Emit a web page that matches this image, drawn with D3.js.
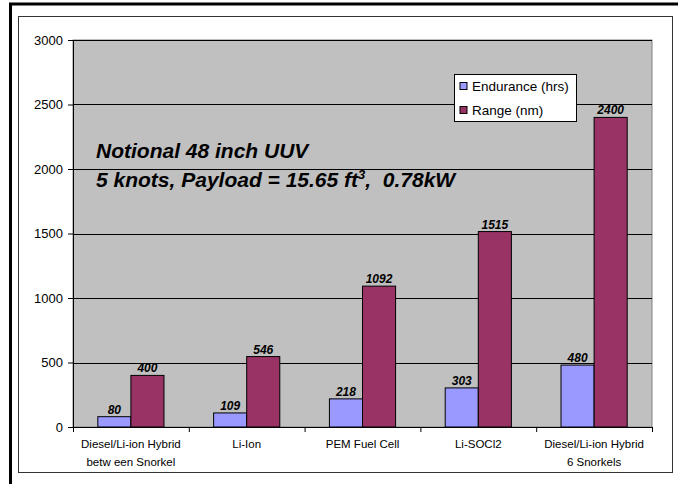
<!DOCTYPE html>
<html>
<head>
<meta charset="utf-8">
<script src="https://cdn.jsdelivr.net/npm/d3@7"></script>
<style>
  body { margin: 0; background: #fff; }
  svg { display: block; font-family: Arial, "Liberation Sans", sans-serif; }
</style>
</head>
<body>
<div id="chart"></div>
<script>
var categories = [["Diesel/Li-ion Hybrid", "betw een Snorkel"], ["Li-Ion"], ["PEM Fuel Cell"], ["Li-SOCl2"], ["Diesel/Li-ion Hybrid", "6 Snorkels"]],
    endurance = [80, 109, 218, 303, 480],
    range = [400, 546, 1092, 1515, 2400],
    seriesNames = ["Endurance (hrs)", "Range (nm)"],
    yTicks = [0, 500, 1000, 1500, 2000, 2500, 3000];

var W = 678, H = 484,
    margin = { top: 40, right: 26, bottom: 57, left: 73 },
    width = W - margin.left - margin.right,
    height = H - margin.top - margin.bottom;

var colors = ['#9999FF', '#993366'];

var svg = d3.select('#chart').append('svg')
  .attr('width', W)
  .attr('height', H);

// outer frame (runs off the right/bottom edge)
svg.append('rect')
  .attr('x', 10.5).attr('y', 4)
  .attr('width', 700).attr('height', 520)
  .attr('fill', 'none').attr('stroke', '#000').attr('stroke-width', 3);

// chart area border
svg.append('rect')
  .attr('x', 18.5).attr('y', 16.5)
  .attr('width', 654).attr('height', 456)
  .attr('fill', '#fff').attr('stroke', '#333').attr('stroke-width', 1);

var g = svg.append('g')
  .attr('transform', 'translate(' + margin.left + ',' + margin.top + ')');

var y = d3.scaleLinear().domain([0, 3000]).range([height, 0]);
var x = d3.scaleBand().domain(d3.range(categories.length)).range([0, width]).paddingInner(0).paddingOuter(0);
var bw = x.bandwidth() / 3.5;

g.append('rect')
  .attr('width', width).attr('height', height)
  .attr('fill', '#C0C0C0').attr('stroke', '#808080');

// gridlines
g.selectAll('.grid').data(yTicks.slice(1)).enter().append('line')
  .attr('x1', 0).attr('x2', width)
  .attr('y1', function(d) { return Math.round(y(d)) + 0.5; })
  .attr('y2', function(d) { return Math.round(y(d)) + 0.5; })
  .attr('stroke', '#000').attr('stroke-width', 1);

// y axis
var yAxis = g.append('g')
  .call(d3.axisLeft(y).tickValues(yTicks).tickSize(5).tickPadding(5).tickFormat(d3.format('d')));
yAxis.select('.domain').attr('stroke', '#000');
yAxis.selectAll('text').attr('font-size', 13).attr('fill', '#000').attr('font-family', 'Arial, "Liberation Sans", sans-serif');

// x axis
var xAxis = g.append('g')
  .attr('transform', 'translate(0,' + height + ')')
  .call(d3.axisBottom(d3.scaleLinear().domain([0, 5]).range([0, width])).ticks(5).tickSize(5).tickFormat(''));
xAxis.select('.domain').attr('stroke', '#000');

var labels = g.selectAll('.xlab').data(categories).enter().append('text')
  .attr('x', function(d, i) { return x(i) + x.bandwidth() / 2; })
  .attr('y', height + 21)
  .attr('text-anchor', 'middle')
  .attr('font-size', 11.5)
  .attr('fill', '#000');
labels.selectAll('tspan').data(function(d) { return d; }).enter().append('tspan')
  .attr('x', function() { return d3.select(this.parentNode).attr('x'); })
  .attr('dy', function(d, i) { return i === 0 ? 0 : 18; })
  .text(function(d) { return d; });

// bars
[endurance, range].forEach(function(series, s) {
  g.selectAll('.bar' + s).data(series).enter().append('rect')
    .attr('x', function(d, i) { return x(i) + x.bandwidth() / 2 - bw + s * bw; })
    .attr('y', function(d) { return y(d); })
    .attr('width', bw)
    .attr('height', function(d) { return height - y(d); })
    .attr('fill', colors[s])
    .attr('stroke', '#000').attr('stroke-width', 1);

  g.selectAll('.val' + s).data(series).enter().append('text')
    .attr('x', function(d, i) { return x(i) + x.bandwidth() / 2 - bw / 2 + s * bw; })
    .attr('y', function(d) { return y(d) - 3; })
    .attr('text-anchor', 'middle')
    .attr('font-size', 12)
    .attr('font-weight', 'bold')
    .attr('font-style', 'italic')
    .text(function(d) { return d; });
});

// annotation
var note = svg.append('text')
  .attr('x', 96).attr('font-size', 21).attr('font-weight', 'bold').attr('font-style', 'italic');
note.append('tspan').attr('x', 96).attr('y', 158).text('Notional 48 inch UUV');
var l2 = svg.append('text')
  .attr('x', 96).attr('y', 187).attr('font-size', 21).attr('font-weight', 'bold').attr('font-style', 'italic');
l2.append('tspan').text('5 knots, Payload = 15.65 ft');
l2.append('tspan').attr('font-size', 13).attr('dy', -8).text('3');
l2.append('tspan').attr('dy', 8).text(',\u00a0\u00a00.78kW');

// legend
var lg = svg.append('g').attr('transform', 'translate(454.5,74.5)');
lg.append('rect').attr('width', 122).attr('height', 47).attr('fill', '#fff').attr('stroke', '#000');
seriesNames.forEach(function(n, i) {
  lg.append('rect').attr('x', 5.5).attr('y', 8 + i * 24).attr('width', 7).attr('height', 7)
    .attr('fill', colors[i]).attr('stroke', '#000');
  lg.append('text').attr('x', 17.5).attr('y', 16.5 + i * 24).attr('font-size', 13.5).text(n);
});
</script>
</body>
</html>
